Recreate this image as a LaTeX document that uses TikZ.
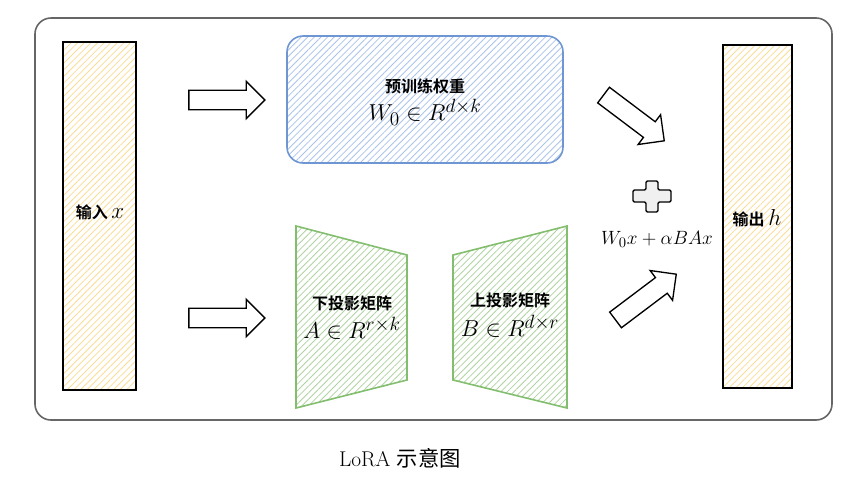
\documentclass[tikz,border=0pt]{standalone}
\usepackage{fontspec}
\newfontfamily\cjk{Noto Sans CJK SC}
\newfontfamily\cjkb{Noto Sans CJK SC Bold}
\usetikzlibrary{patterns.meta,shapes.arrows}
\definecolor{hy}{RGB}{250,220,150}
\definecolor{hb}{RGB}{170,195,235}
\definecolor{bb}{RGB}{110,150,210}
\definecolor{hg}{RGB}{175,210,160}
\definecolor{gg}{RGB}{130,190,110}
\begin{document}
\begin{tikzpicture}[x=0.75pt,y=-0.75pt,
  hatch/.style={pattern={Lines[angle=45,distance=3.5pt,line width=0.6pt]},pattern color=#1},
  barr/.style={single arrow,draw=black,line width=1pt,fill=white,minimum width=28pt,single arrow head extend=5pt,single arrow tip angle=90,minimum height=57pt,inner sep=5pt},
  lab/.style={font=\cjkb\fontsize{12}{14}\selectfont,align=center},
  mth/.style={font=\fontsize{19}{22}\selectfont}]
\useasboundingbox (0,0) rectangle (857,490);
\draw[gray!80!black,line width=1.2pt,rounded corners=12pt] (35,18) rectangle (832,420);
\draw[line width=1.6pt,hatch=hy] (63,42) rectangle (136,390);
\node[lab] (in) at (100,212) {输入 {\fontsize{16}{16}\selectfont$x$}};
\draw[line width=1.6pt,hatch=hy] (723,45) rectangle (792,388);
\node[lab] (out) at (757,218) {输出 {\fontsize{16}{16}\selectfont$h$}};
\draw[bb,line width=1.2pt,rounded corners=12pt,hatch=hb] (287,36) rectangle (563,163);
\node[lab] (pre) at (425,86) {预训练权重};
\node[mth] (w0) at (425,112) {$W_0\in R^{d\times k}$};
\draw[gg,line width=1.2pt,hatch=hg] (296,226) -- (407,255) -- (407,380) -- (296,408) -- cycle;
\node[lab] (down) at (352,303) {下投影矩阵};
\node[mth] (a) at (352,328) {$A\in R^{r\times k}$};
\draw[gg,line width=1.2pt,hatch=hg] (453,255) -- (567,226) -- (567,408) -- (453,380) -- cycle;
\node[lab] (up) at (510,300) {上投影矩阵};
\node[mth] (b) at (510,326) {$B\in R^{d\times r}$};
\node[barr] (ar1) at (222,100) {};
\node[barr] (ar2) at (222,318) {};
\node[barr,rotate=-37] (ar3) at (630,115) {};
\node[barr,rotate=37] (ar4) at (642,300) {};
\draw[line width=1pt,fill=gray!12,rounded corners=1pt] (646,181)--(658,181)--(658,190)--(671,190)--(671,202)--(658,202)--(658,212)--(646,212)--(646,202)--(633,202)--(633,190)--(646,190)--cycle;
\node[font=\fontsize{15}{17}\selectfont] (f) at (657,239) {$W_0x+\alpha BAx$};
\node[font=\fontsize{16}{19}\selectfont] (cap) at (400,458) {LoRA {\cjk 示意图}};
\end{tikzpicture}
\end{document}
